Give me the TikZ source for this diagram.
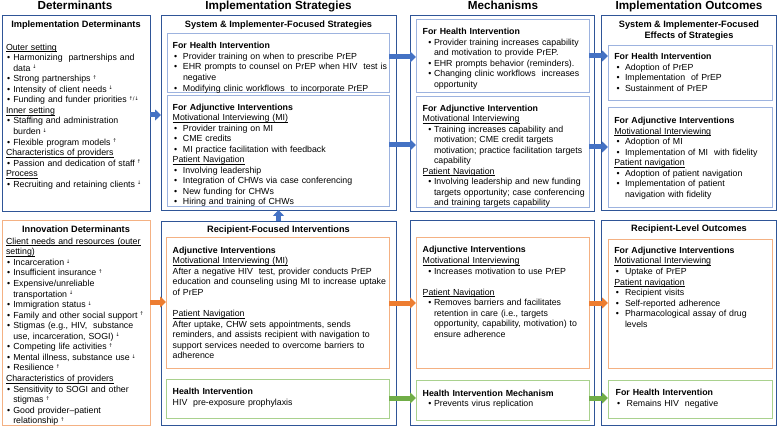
\documentclass[tikz,border=0pt]{standalone}
\usepackage{fontspec}
\setmainfont{Liberation Sans}
\newfontfamily\arrfont{DejaVu Sans}
\usetikzlibrary{arrows.meta}
\definecolor{obox}{HTML}{2F5597}
\definecolor{ibox}{HTML}{9DB3DF}
\definecolor{orbox}{HTML}{F4B183}
\definecolor{grbox}{HTML}{A9D18E}
\definecolor{barr}{HTML}{4472C4}
\definecolor{oarr}{HTML}{ED7D31}
\definecolor{garr}{HTML}{70AD47}
\newlength\bB \newlength\bT
\newcommand\myit{\par\hangindent=\bT\hangafter=1\noindent\hbox to \bT{\hskip\bB •\hfil}\strut}
\newcommand\myhd[1]{\par\noindent\strut\textbf{#1}}
\newcommand\myul[1]{\setbox0\hbox{#1}\rlap{\rule[-1.6pt]{\wd0}{0.5pt}}\box0}
\newcommand\mysub[1]{\par\noindent\strut\myul{#1}}
\newcommand\mypl{\par\noindent\strut}
\newcommand\myblank{\par\noindent\strut\par}
\newcommand\myup{\hspace{2pt}{\arrfont\fontsize{5}{5}\selectfont\raisebox{2.4pt}{↑}}}
\newcommand\mydn{\hspace{2pt}{\arrfont\fontsize{5}{5}\selectfont\raisebox{2.4pt}{↓}}}
\newcommand\myud{\hspace{2pt}{\arrfont\fontsize{5}{5}\selectfont\raisebox{2.4pt}{↑/↓}}}
\newcommand\mkbox[6]{\node[#1,anchor=north west,inner sep=0pt,outer sep=0pt,minimum width={(#5-#3)*1pt},minimum height={(#6-#4)*1pt}] (#2) at (#3,#4) {};}
\begin{document}
\begin{tikzpicture}[x=1pt,y=-1pt,
  outerb/.style={draw=obox,line width=0.9pt},
  innerb/.style={draw=ibox,line width=0.9pt},
  orb/.style={draw=orbox,line width=1pt},
  grb/.style={draw=grbox,line width=1pt},
  hdr/.style={anchor=base,inner sep=0pt,font=\bfseries\fontsize{11.7}{13}\selectfont},
  ttl/.style={anchor=base,inner sep=0pt,font=\bfseries\fontsize{9.2}{10.6}\selectfont},
  txt/.style={anchor=north west,inner sep=0pt,outer sep=0pt,text width=300pt,font=\fontsize{8.8}{10.55}\selectfont},
  arr/.style={line width=5pt,-{Triangle[length=6pt,width=11pt]}},
  barrow/.style={arr,draw=barr,fill=barr},
  oarrow/.style={arr,draw=oarr,fill=oarr},
  garrow/.style={arr,draw=garr,fill=garr}]
\useasboundingbox (0,0) rectangle (778,427);
% column headers
\node[hdr] (h1) at (75,9.5) {Determinants};
\node[hdr] (h2) at (278.5,9.5) {Implementation Strategies};
\node[hdr] (h3) at (503,9.5) {Mechanisms};
\node[hdr] (h4) at (689,9.5) {Implementation Outcomes};
% boxes
\mkbox{outerb}{det}{2}{15}{150}{211}
\mkbox{orb}{inn}{2}{221}{150}{425}
\mkbox{outerb}{ss}{161}{15}{396}{210}
\mkbox{innerb}{ssH}{167}{33}{389}{92}
\mkbox{innerb}{ssA}{167}{95}{389}{206}
\mkbox{outerb}{rf}{161}{221}{396}{425}
\mkbox{orb}{rfO}{166}{238}{389}{368}
\mkbox{grb}{rfG}{166}{379}{389}{418}
\mkbox{outerb}{mt}{410}{15}{594}{211}
\mkbox{innerb}{mtH}{416}{19}{589}{92}
\mkbox{innerb}{mtA}{416}{96}{589}{207}
\mkbox{outerb}{mb}{410}{220}{594}{425}
\mkbox{orb}{mbO}{416}{238}{589}{368}
\mkbox{grb}{mbG}{416}{380}{589}{420}
\mkbox{outerb}{ot}{601}{15}{776.5}{210}
\mkbox{innerb}{otH}{608}{45}{772}{100}
\mkbox{innerb}{otA}{608}{107}{772}{207}
\mkbox{outerb}{ob}{601}{220}{776.5}{425}
\mkbox{orb}{obO}{608}{240}{772}{368}
\mkbox{grb}{obG}{608}{380}{772}{418}
% box titles
\node[ttl] (t1) at (76,27.3) {Implementation Determinants};
\node[ttl] (t2) at (76,232.6) {Innovation Determinants};
\node[ttl] (t3) at (278.5,27.3) {System \& Implementer-Focused Strategies};
\node[ttl] (t4) at (278.5,232.6) {Recipient-Focused Interventions};
\node[ttl,anchor=north,align=center] (t5) at (689,19.9) {\strut System \& Implementer-Focused\\Effects of Strategies};
\node[ttl] (t6) at (689,231.6) {Recipient-Level Outcomes};
% determinants
\node[txt] (x1) at (6,39.6) {\setlength\bB{1pt}\setlength\bT{7.3pt}%
\mysub{Outer setting}
\myit Harmonizing\ \ partnerships and\newline data\mydn
\myit Strong partnerships\myup
\myit Intensity of client needs\mydn
\myit Funding and funder priorities\myud
\mysub{Inner setting}
\myit Staffing and administration\newline burden\mydn
\myit Flexible program models\myup
\mysub{Characteristics of providers}
\myit Passion and dedication of staff\myup
\mysub{Process}
\myit Recruiting and retaining clients\mydn\par};
\node[txt] (x2) at (6,233.8) {\setlength\bB{1pt}\setlength\bT{7.3pt}%
\mysub{Client needs and resources (outer}
\mysub{setting)}
\myit Incarceration\mydn
\myit Insufficient insurance\myup
\myit Expensive/unreliable\newline transportation\mydn
\myit Immigration status\mydn
\myit Family and other social support\myup
\myit Stigmas (e.g., HIV,\ \ substance\newline use, incarceration, SOGI)\mydn
\myit Competing life activities\myup
\myit Mental illness, substance use\mydn
\myit Resilience\myup
\mysub{Characteristics of providers}
\myit Sensitivity to SOGI and other\newline stigmas\myup
\myit Good provider–patient\newline relationship\myup\par};
% strategies
\node[txt] (x3) at (172.7,38.3) {\setlength\bB{1.3pt}\setlength\bT{10.3pt}%
\myhd{For Health Intervention}
\myit Provider training on when to prescribe PrEP
\myit EHR prompts to counsel on PrEP when HIV\ \ test is\newline negative
\myit Modifying clinic workflows\ \ to incorporate PrEP\par};
\node[txt] (x4) at (172.7,99.5) {\setlength\bB{1.3pt}\setlength\bT{10.3pt}%
\myhd{For Adjunctive Interventions}
\mysub{Motivational Interviewing (MI)}
\myit Provider training on MI
\myit CME credits
\myit MI practice facilitation with feedback
\mysub{Patient Navigation}
\myit Involving leadership
\myit Integration of CHWs via case conferencing
\myit New funding for CHWs
\myit Hiring and training of CHWs\par};
\node[txt] (x5) at (172.7,242.8) {%
\myhd{Adjunctive Interventions}
\mysub{Motivational Interviewing (MI)}
\mypl After a negative HIV\ \ test, provider conducts PrEP\newline education and counseling using MI to increase uptake\newline of PrEP
\myblank
\mysub{Patient Navigation}
\mypl After uptake, CHW sets appointments, sends\newline reminders, and assists recipient with navigation to\newline support services needed to overcome barriers to\newline adherence\par};
\node[txt] (x6) at (172.7,384.1) {%
\myhd{Health Intervention}
\mypl HIV\ \ pre-exposure prophylaxis\par};
% mechanisms
\node[txt] (x7) at (422.7,24.1) {\setlength\bB{5.7pt}\setlength\bT{11.3pt}%
\myhd{For Health Intervention}
\myit Provider training increases capability\newline and motivation to provide PrEP.
\myit EHR prompts behavior (reminders).
\myit Changing clinic workflows\ \ increases\newline opportunity\par};
\node[txt] (x8) at (422.7,100.5) {\setlength\bB{5.7pt}\setlength\bT{11.3pt}%
\myhd{For Adjunctive Intervention}
\mysub{Motivational Interviewing}
\myit Training increases capability and\newline motivation; CME credit targets\newline motivation; practice facilitation targets\newline capability
\mysub{Patient Navigation}
\myit Involving leadership and new funding\newline targets opportunity; case conferencing\newline and training targets capability\par};
\node[txt] (x9) at (422.7,242.4) {\setlength\bB{5.7pt}\setlength\bT{11.3pt}%
\myhd{Adjunctive Interventions}
\mysub{Motivational Interviewing}
\myit Increases motivation to use PrEP
\myblank
\mysub{Patient Navigation}
\myit Removes barriers and facilitates\newline retention in care (i.e., targets\newline opportunity, capability, motivation) to\newline ensure adherence\par};
\node[txt] (x10) at (422.7,385.6) {\setlength\bB{5.7pt}\setlength\bT{11.3pt}%
\myhd{Health Intervention Mechanism}
\myit Prevents virus replication\par};
% outcomes
\node[txt] (x11) at (614.3,49.0) {\setlength\bB{2.4pt}\setlength\bT{10.7pt}%
\myhd{For Health Intervention}
\myit Adoption of PrEP
\myit Implementation\ \ of PrEP
\myit Sustainment of PrEP\par};
\node[txt] (x12) at (614.3,113.0) {\setlength\bB{2.4pt}\setlength\bT{10.7pt}%
\myhd{For Adjunctive Interventions}
\mysub{Motivational Interviewing}
\myit Adoption of MI
\myit Implementation of MI\ \ with fidelity
\mysub{Patient navigation}
\myit Adoption of patient navigation
\myit Implementation of patient\newline navigation with fidelity\par};
\node[txt] (x13) at (614.3,242.9) {\setlength\bB{1.5pt}\setlength\bT{10.7pt}%
\myhd{For Adjunctive Interventions}
\mysub{Motivational Interviewing}
\myit Uptake of PrEP
\mysub{Patient navigation}
\myit Recipient visits
\myit Self-reported adherence
\myit Pharmacological assay of drug\newline levels\par};
\node[txt] (x14) at (615.7,385.0) {\setlength\bB{1.5pt}\setlength\bT{11pt}%
\myhd{For Health Intervention}
\myit Remains HIV\ \ negative\par};
% arrows
\coordinate (yA) at (0,115);
\coordinate (yB) at (0,302);
\coordinate (yC) at (0,57);
\coordinate (yD) at (0,145);
\coordinate (yE) at (0,303);
\coordinate (yF) at (0,398);
\coordinate (yG) at (0,56);
\coordinate (yH) at (0,147);
\draw[barrow] (det.east |- yA) -- (ss.west |- yA);
\draw[oarrow] (inn.east |- yB) -- (rfO.west |- yB);
\draw[barrow] (ssH.east |- yC) -- (mtH.west |- yC);
\draw[barrow] (ssA.east |- yD) -- (mtA.west |- yD);
\draw[oarrow] (rfO.east |- yE) -- (mbO.west |- yE);
\draw[garrow] (rfG.east |- yF) -- (mbG.west |- yF);
\draw[barrow] (mtH.east |- yG) -- (otH.west |- yG);
\draw[barrow] (mtA.east |- yH) -- (otA.west |- yH);
\draw[oarrow] (mbO.east |- yE) -- (obO.west |- yE);
\draw[garrow] (mbG.east |- yF) -- (obG.west |- yF);
\draw[barrow] (rf.north) -- (ss.south);
\end{tikzpicture}
\end{document}
